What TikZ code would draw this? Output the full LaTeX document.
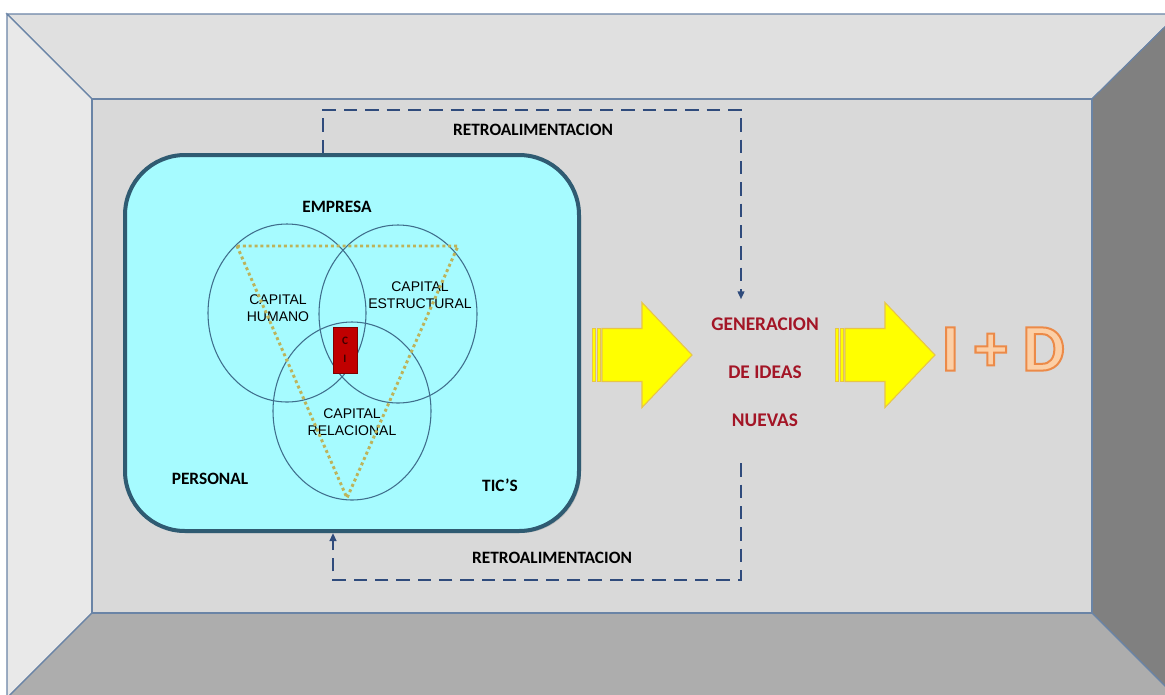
\documentclass[tikz,border=0pt]{standalone}
\usepackage{fontspec}
\setmainfont{Carlito}
\newfontfamily\arialfont{Liberation Sans}
\usetikzlibrary{arrows.meta,shadows}

\definecolor{wallline}{HTML}{6A84A6}
\definecolor{walltop}{HTML}{E0E0E0}
\definecolor{wallleft}{HTML}{E9E9E9}
\definecolor{wallback}{HTML}{D9D9D9}
\definecolor{wallright}{HTML}{808080}
\definecolor{wallfloor}{HTML}{ADADAD}
\definecolor{boxcyan}{HTML}{A6FBFF}
\definecolor{boxline}{HTML}{2F5B72}
\definecolor{ringblue}{HTML}{3F6E8C}
\definecolor{dotolive}{HTML}{BDB35A}
\definecolor{feedblue}{HTML}{2F4B7C}
\definecolor{ideared}{HTML}{A31526}
\definecolor{arrowyellow}{HTML}{FFFF00}
\definecolor{arrowgold}{HTML}{E8C547}
\definecolor{idfill}{HTML}{FCCFA6}
\definecolor{cired}{HTML}{C00000}

% outlined text: fill in the current colour, stroke in orange
\newcommand\outlinedtext[1]{%
  \special{pdf:literal direct 2 Tr 1.5 w 0.925 0.541 0.282 RG}#1%
  \special{pdf:literal direct 0 Tr 0.4 w}}

\tikzset{
  wall/.style={draw=wallline, line width=0.9pt},
  tagtext/.style={font=\bfseries\fontsize{13}{15}\selectfont, inner sep=0pt},
  capital/.style={font=\arialfont\fontsize{10.5}{12.5}\selectfont, align=center, inner sep=0pt},
  ring/.style={draw=ringblue, line width=0.8pt},
  dotline/.style={draw=dotolive, line width=2.2pt, dash pattern=on 2.2pt off 2.2pt},
  feedback/.style={draw=feedblue, line width=1.5pt, dash pattern=on 10pt off 6pt,
    -{Triangle[length=6pt,width=5pt]}},
  rdtext/.style={font=\bfseries\fontsize{50}{60}\selectfont, inner sep=0pt, text=idfill},
  pics/stripedarrow/.style={code={
    \foreach \sx in {0,5}
      \filldraw[fill=arrowyellow, draw=arrowgold, line width=0.6pt] (\sx,-26.5) rectangle ++(3,53);
    \filldraw[fill=arrowyellow, draw=arrowgold, line width=0.8pt]
      (10,-26.5) -- (50,-26.5) -- (50,-52.5) -- (100,0) -- (50,52.5) -- (50,26.5) -- (10,26.5) -- cycle;
  }}
}

\begin{document}
\begin{tikzpicture}[x=0.75pt,y=-0.75pt]
\clip (0,0) rectangle (1165,694);
\fill[white] (0,0) rectangle (1165,694);

% room walls
\filldraw[wall, fill=walltop] (7,14) -- (1178,14) -- (1092,99) -- (92,99) -- cycle;
\filldraw[wall, fill=wallleft] (7,14) -- (92,99) -- (92,613) -- (7,698) -- cycle;
\filldraw[wall, fill=wallright] (1178,14) -- (1092,99) -- (1092,613) -- (1178,699) -- cycle;
\filldraw[wall, fill=wallfloor] (92,613) -- (1092,613) -- (1178,699) -- (7,698) -- cycle;
\filldraw[wall, fill=wallback] (92,99) rectangle (1092,613);

% empresa box
\node[draw=boxline, line width=3pt, fill=boxcyan, rounded corners=45pt,
  minimum width=340.5pt, minimum height=282pt,
  drop shadow={opacity=0.35, shadow xshift=1.5pt, shadow yshift=-1.5pt}] (box) at (352,343) {};
\node[tagtext] (empresa) at (337,207) {EMPRESA};
\node[tagtext] (personal) at (210,479) {PERSONAL};
\node[tagtext] (tics) at (500,485) {TIC’S};

% three capitals
\draw[ring] (287,313) ellipse (79 and 89);
\draw[ring] (398,314) ellipse (79 and 89);
\draw[ring] (352,411) ellipse (79 and 89);
\node[capital] (humano) at (278,308) {CAPITAL\\HUMANO};
\node[capital] (estructural) at (420,295) {CAPITAL\\ESTRUCTURAL};
\node[capital] (relacional) at (352,422) {CAPITAL\\RELACIONAL};
\node[fill=cired, draw=red!50!black, line width=0.4pt, minimum width=18pt, minimum height=34.5pt,
  inner sep=0pt, align=center, font=\bfseries\fontsize{8.5}{13.5}\selectfont,
  text=red!25!black] (ci) at (345,350) {C\\I};
\draw[dotline] (237,246) -- (458,246) -- (347,498) -- cycle;

% ideas and result
\node[font=\bfseries\fontsize{14.5}{36}\selectfont, text=ideared, align=center,
  inner xsep=0pt, inner ysep=13.5pt] (gen) at (765,372) {GENERACION\\DE IDEAS\\NUEVAS};
\pic at (592,355) {stripedarrow};
\pic at (835,355) {stripedarrow};
\node[rdtext] (rd) at (1003,349) {\outlinedtext{I + D}};

% feedback loops
\node[tagtext] (retroa) at (533,130) {RETROALIMENTACION};
\node[tagtext] (retrob) at (552,558) {RETROALIMENTACION};
\draw[feedback] (323,0 |- box.north) -- (323,110) -- (741,110) -- (741,0 |- gen.north);
\draw[feedback, shorten <=14pt] (741,0 |- gen.south) -- (741,580) -- (333,580) -- (333,0 |- box.south);
\end{tikzpicture}
\end{document}
